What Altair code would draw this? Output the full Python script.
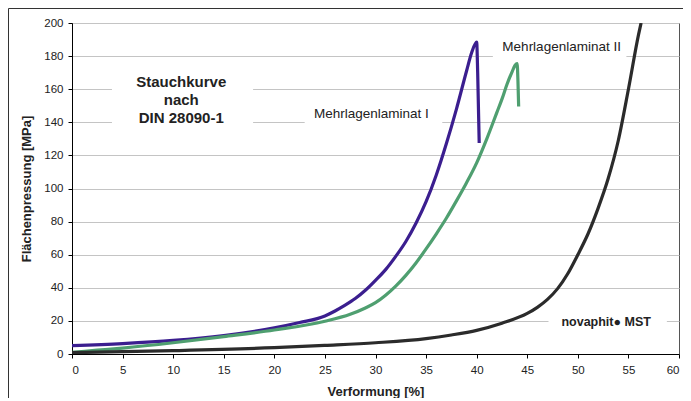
import altair as alt
import pandas as pd

# --- data ---
purple_x = [0, 5, 10, 15, 20, 22.5, 25, 26, 27, 28, 29, 30, 31, 32, 33, 34, 35, 36, 37, 38, 39, 39.5, 40.0, 40.1, 40.25]
purple_y = [5, 6.3, 8.2, 11.2, 15.8, 19, 23, 26, 29.5, 33.5, 38.5, 44.5, 51, 59, 68, 79, 92, 108, 127, 148, 171, 182, 188.5, 170, 127.5]

green_x = [0, 2.5, 5, 10, 15, 20, 25, 27.5, 29, 30, 31, 32, 33, 34, 35, 36, 37, 38, 39, 40, 41, 42, 42.5, 43, 43.5, 43.8, 44.0, 44.08, 44.15]
green_y = [1, 2.3, 3.6, 6.8, 10.5, 14.5, 19.8, 24, 27.8, 31, 35.5, 41, 47.5, 55, 63.5, 72.5, 82, 92.5, 103.5, 115.5, 130, 146, 154, 163, 170.5, 174.5, 175.5, 165, 149.5]

black_x = [0, 10, 20, 25, 30, 35, 37.5, 40, 42.5, 45, 46, 47, 48, 49, 50, 51, 52, 53, 54, 55, 56, 56.25]
black_y = [0.8, 2, 3.8, 5.2, 6.8, 9.3, 11.5, 14.3, 18.6, 24.5, 28.2, 33, 39.5, 48.5, 60, 72.5, 88, 106, 129, 160, 193, 200]

series_names = ["Mehrlagenlaminat I", "Mehrlagenlaminat II", "novaphit MST"]
series_colors = ["#3b1e8f", "#4f9f70", "#2b2b2b"]

x_ticks = list(range(0, 61, 5))
y_ticks = list(range(0, 201, 20))

# annotations (data coordinates)
label_text = ["Mehrlagenlaminat I", "Mehrlagenlaminat II"]
label_x = [29.6, 48.4]
label_y = [145, 185.5]

bold_text = ["Stauchkurve\nnach\nDIN 28090-1", "novaphit● MST"]
bold_x = [10.8, 52.8]
bold_y = [164.4, 19.3]
bold_size = [15, 12.5]

box_x1 = [3.95, 23.0, 41.6, 47.1]
box_x2 = [17.9, 36.6, 54.8, 58.8]
box_y1 = [135, 137, 178, 14]
box_y2 = [172, 154, 193, 25]

rows = []
for name, xs_, ys_ in zip(series_names, [purple_x, green_x, black_x], [purple_y, green_y, black_y]):
    for i, (a, b) in enumerate(zip(xs_, ys_)):
        rows.append({"series": name, "x": a, "y": b, "order": i})
df = pd.DataFrame(rows)

xs = alt.Scale(domain=[0, 60], nice=False, zero=False)
ys = alt.Scale(domain=[0, 200], nice=False)

x_axis = alt.Axis(
    values=x_ticks, title="Verformung [%]", grid=False, domainColor="black",
    tickColor="black", tickSize=4, labelPadding=6, labelFontSize=11.5,
    labelColor="#222", titleFontSize=13, titleFontWeight="bold", titleColor="#222",
    titlePadding=10, labelFont="Liberation Sans", titleFont="Liberation Sans")
y_axis = alt.Axis(
    values=y_ticks, title="Flächenpressung [MPa]", grid=True, gridColor="#c4c4c4",
    domainColor="black", tickColor="black", tickSize=4, labelPadding=5,
    labelFontSize=11.5, labelColor="#222", titleFontSize=13, titleFontWeight="bold",
    titleColor="#222", titlePadding=10, labelFont="Liberation Sans",
    titleFont="Liberation Sans", labelOverlap=False)

boxes = alt.Chart(pd.DataFrame({"x1": box_x1, "x2": box_x2, "y1": box_y1, "y2": box_y2})).mark_rect(
    fill="white"
).encode(
    x=alt.X("x1:Q", scale=xs, axis=x_axis),
    x2="x2:Q",
    y=alt.Y("y1:Q", scale=ys, axis=y_axis),
    y2="y2:Q",
)

lines = alt.Chart(df).mark_line(strokeWidth=3.2, interpolate="monotone", clip=True).encode(
    x=alt.X("x:Q", scale=xs, axis=x_axis),
    y=alt.Y("y:Q", scale=ys, axis=y_axis),
    color=alt.Color("series:N", scale=alt.Scale(domain=series_names, range=series_colors), legend=None),
    order="order:Q",
    detail="series:N",
)

labels = alt.Chart(pd.DataFrame({"t": label_text, "x": label_x, "y": label_y})).mark_text(
    font="Liberation Sans", fontSize=13.5, color="#222", baseline="middle", align="center"
).encode(x=alt.X("x:Q", scale=xs, axis=x_axis), y=alt.Y("y:Q", scale=ys, axis=y_axis), text="t:N")

blabels = alt.Chart(pd.DataFrame({"t": bold_text, "x": bold_x, "y": bold_y, "s": bold_size})).mark_text(
    font="Liberation Sans", fontWeight="bold", color="#222", baseline="middle",
    align="center", lineBreak="\n", lineHeight=18
).encode(x=alt.X("x:Q", scale=xs, axis=x_axis), y=alt.Y("y:Q", scale=ys, axis=y_axis), text="t:N",
         size=alt.Size("s:Q", scale=None, legend=None))

frame = alt.Chart(pd.DataFrame({"a": [0]})).mark_rect(
    fill=None, stroke="#333", strokeWidth=1
).encode(x=alt.value(-63.5), x2=alt.value(700), y=alt.value(-14.5), y2=alt.value(500))

chart = alt.layer(boxes, lines, labels, blabels, frame).properties(
    width=607, height=331,
    autosize=alt.AutoSizeParams(type="none"),
    padding={"left": 64, "top": 15, "right": 4, "bottom": 44},
    background="white",
).configure_view(stroke="#555", strokeWidth=1)

chart.save("out.html", embed_options={"renderer": "svg", "actions": False})
